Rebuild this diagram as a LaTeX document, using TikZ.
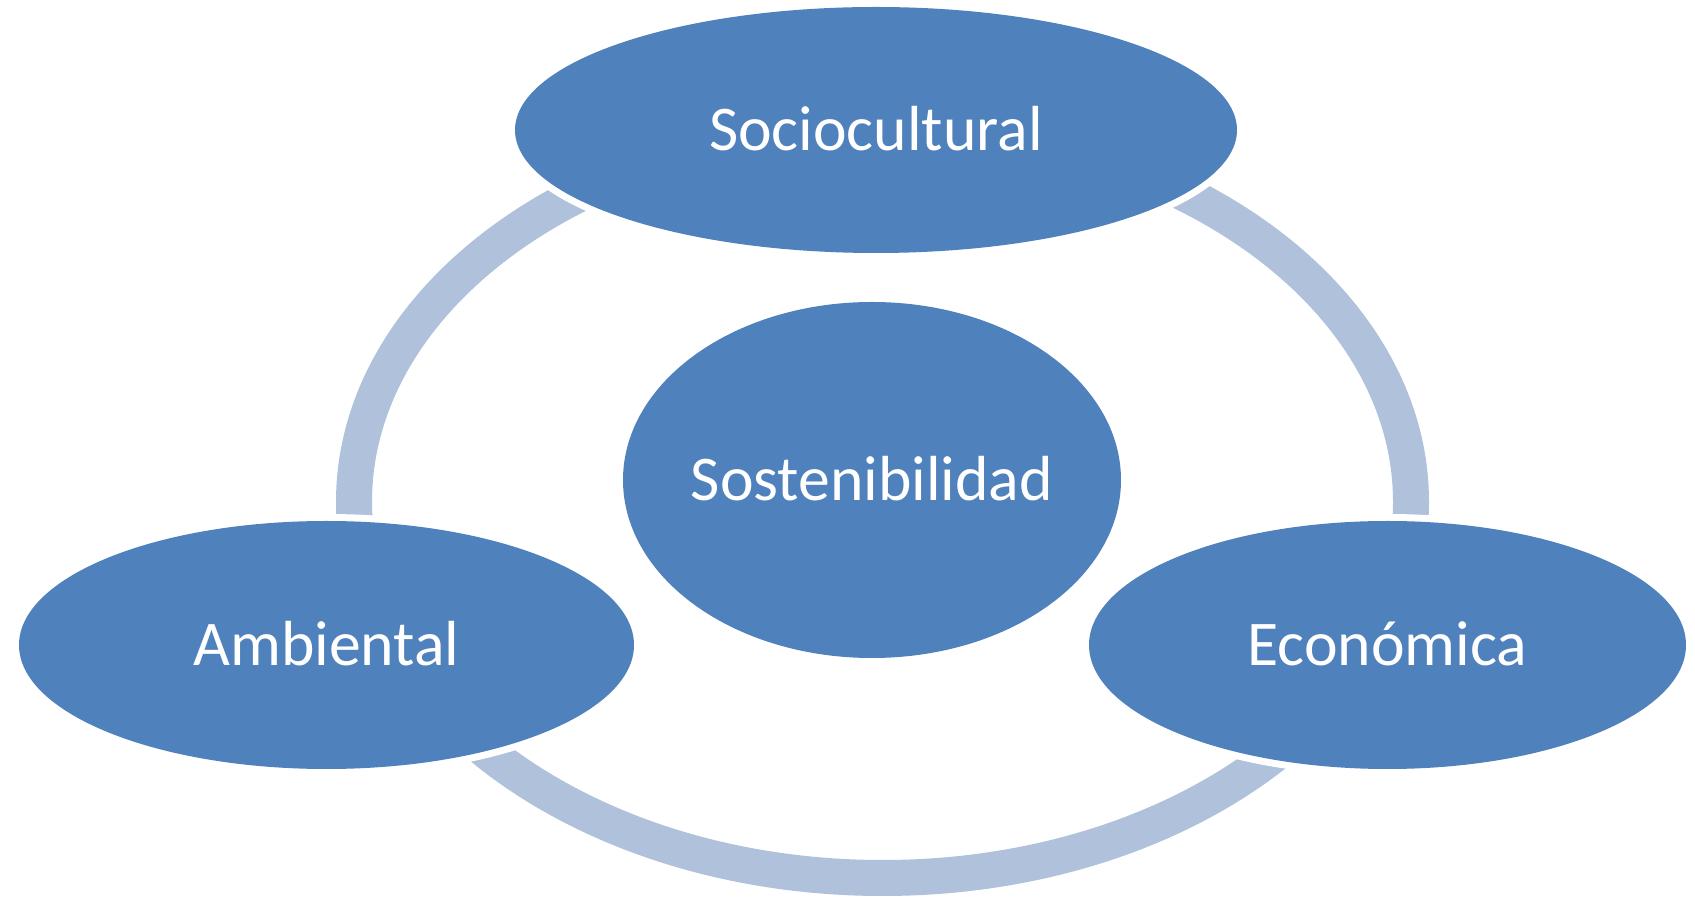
\documentclass[tikz,border=0pt]{standalone}
\usepackage{fontspec}
\setmainfont{Carlito}
\usetikzlibrary{shapes.geometric}
\definecolor{nodeblue}{RGB}{79,129,189}
\definecolor{ringblue}{RGB}{176,193,220}
\tikzset{
  bubble/.style={ellipse, fill=nodeblue, text=white, inner sep=0pt,
    font=\fontsize{63.7}{76}\selectfont, text height=41pt, text depth=0pt,
    preaction={draw=white, line width=14pt}},
  ring/.style={draw=ringblue, line width=36pt}
}
\begin{document}
\begin{tikzpicture}[x=1pt,y=1pt]
\useasboundingbox (0,0) rectangle (1695,897);
\coordinate (ringc) at (882.5,395);
\draw[ring] (ringc) ellipse [x radius=528.5, y radius=376];
\node[bubble, minimum width=722pt, minimum height=246pt] (socio) at (876,767) {\makebox[0pt]{Sociocultural}};
\node[bubble, minimum width=615pt, minimum height=248pt] (amb) at (326.5,252) {\makebox[0pt]{Ambiental}};
\node[bubble, minimum width=597pt, minimum height=248pt] (eco) at (1387.5,252) {\makebox[0pt]{Económica}};
\node[bubble, minimum width=498pt, minimum height=356pt] (sost) at (872,417) {\makebox[0pt]{Sostenibilidad}};
\end{tikzpicture}
\end{document}
